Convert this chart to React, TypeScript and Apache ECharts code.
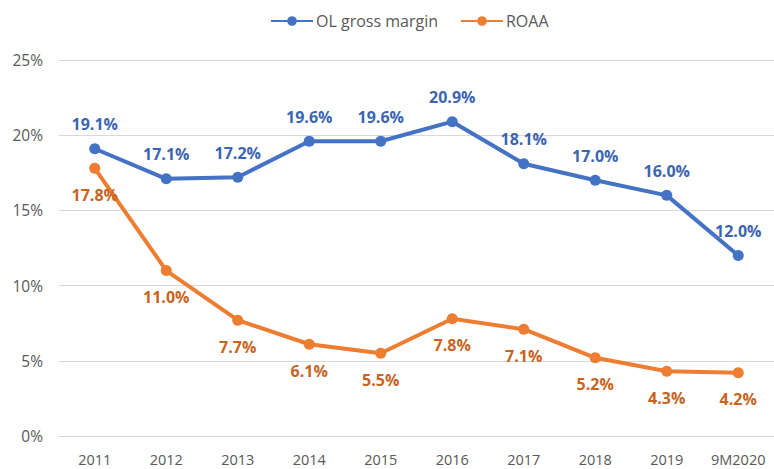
import React, { useEffect, useRef } from "react";
import * as echarts from "echarts";

const categories = ["2011", "2012", "2013", "2014", "2015", "2016", "2017", "2018", "2019", "9M2020"];
const olGrossMargin = [19.1, 17.1, 17.2, 19.6, 19.6, 20.9, 18.1, 17.0, 16.0, 12.0];
const roaa = [17.8, 11.0, 7.7, 6.1, 5.5, 7.8, 7.1, 5.2, 4.3, 4.2];
const yTicks = [0, 5, 10, 15, 20, 25];

export default function App() {
  const ref = useRef<HTMLDivElement>(null);
  useEffect(() => {
    if (!ref.current) return;
    const chart = echarts.init(ref.current, null, { renderer: "svg" });
    const font = "'Open Sans', 'Liberation Sans', sans-serif";
    chart.setOption({
      animation: false,
      backgroundColor: "#ffffff",
      textStyle: { fontFamily: font },
      legend: {
        top: 8,
        left: 265,
        itemWidth: 42,
        itemHeight: 12,
        itemGap: 22,
        textStyle: { color: "#595959", fontSize: 16, fontFamily: font, padding: [0, 0, 0, -2] },
        data: ["OL gross margin", "ROAA"],
      },
      grid: { left: 59, right: 0, top: 60, bottom: 33, containLabel: false },
      xAxis: {
        type: "category",
        data: categories,
        boundaryGap: true,
        axisLine: { show: true, lineStyle: { color: "#d9d9d9", width: 1 } },
        axisTick: { show: false },
        axisLabel: { interval: 0, hideOverlap: false, color: "#595959", fontSize: 14.5, margin: 16, fontFamily: font },
      },
      yAxis: {
        type: "value",
        min: yTicks[0],
        max: yTicks[yTicks.length - 1],
        interval: 5,
        axisLine: { show: false },
        axisTick: { show: false },
        axisLabel: { color: "#595959", fontSize: 15.5, margin: 16, formatter: "{value}%", fontFamily: font },
        splitLine: { lineStyle: { color: "#d9d9d9", width: 1 } },
      },
      series: [
        {
          name: "OL gross margin",
          type: "line",
          data: olGrossMargin,
          symbol: "circle",
          symbolSize: 11,
          itemStyle: { color: "#4472C4" },
          lineStyle: { color: "#4472C4", width: 4 },
          label: {
            show: true,
            position: "top",
            distance: 11,
            color: "#3C65B1",
            fontSize: 16,
            fontWeight: "bold",
            fontFamily: font,
            formatter: (p: any) => p.value.toFixed(1) + "%",
          },
        },
        {
          name: "ROAA",
          type: "line",
          data: roaa,
          symbol: "circle",
          symbolSize: 11,
          itemStyle: { color: "#ED7D31" },
          lineStyle: { color: "#ED7D31", width: 4 },
          label: {
            show: true,
            position: "bottom",
            distance: 13,
            color: "#C8641E",
            fontSize: 16,
            fontWeight: "bold",
            fontFamily: font,
            formatter: (p: any) => p.value.toFixed(1) + "%",
          },
        },
      ],
    });
    return () => chart.dispose();
  }, []);
  return <div ref={ref} style={{ width: 774, height: 469, position: "absolute", left: 0, top: 0 }} />;
}
